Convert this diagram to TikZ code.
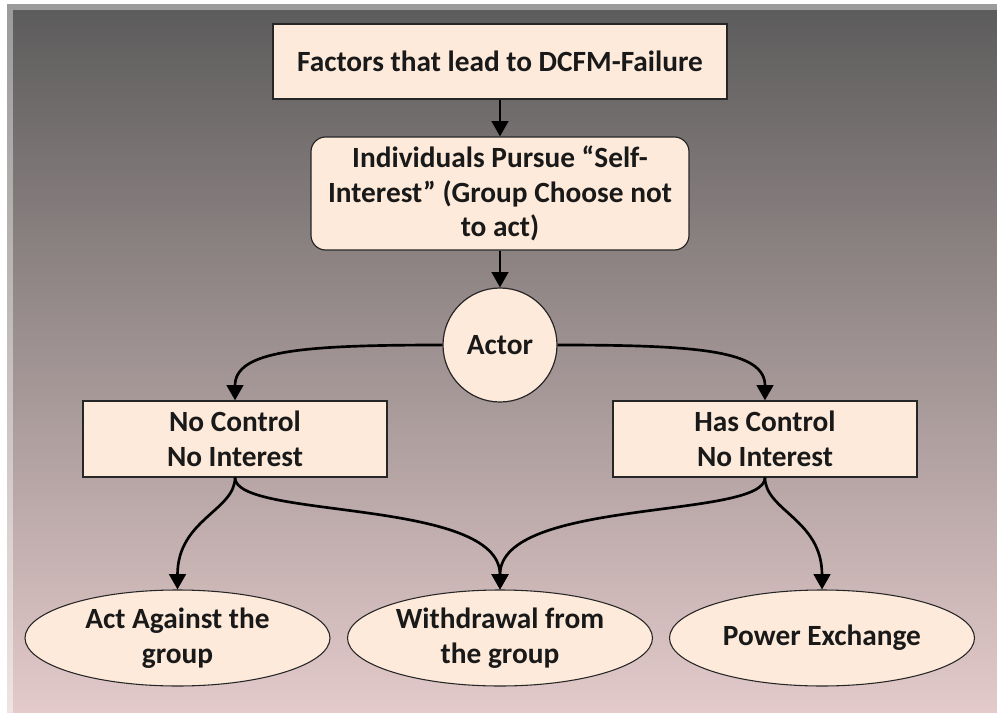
\documentclass[tikz,border=0pt]{standalone}
\usepackage{fontspec}
\setmainfont{Carlito}
\usetikzlibrary{shapes.geometric,arrows.meta}
\definecolor{boxfill}{HTML}{FDEADA}
\definecolor{bgtop}{HTML}{5D5C5C}
\definecolor{bgbot}{HTML}{E4CACA}
\definecolor{frtop}{HTML}{9B9B9B}
\definecolor{frbot}{HTML}{EFE3E3}
\tikzset{
  lbl/.style={font=\fontsize{22}{26}\selectfont\bfseries, text=black!90, align=center, inner sep=0pt},
  sqbox/.style={lbl, draw=black!85, line width=0.9pt, fill=boxfill, rectangle},
  rndbox/.style={sqbox, rounded corners=11pt},
  actorshape/.style={lbl, draw=black!85, line width=0.9pt, fill=boxfill, circle, minimum size=85.5pt},
  outcome/.style={lbl, draw=black!85, line width=0.8pt, fill=boxfill, ellipse, minimum width=228.75pt, minimum height=72pt},
  conn/.style={line width=2pt, black, -{Triangle[width=12.5pt,length=11.5pt]}}
}
\begin{document}
\begin{tikzpicture}[x=0.75pt,y=-0.75pt]
\useasboundingbox (0,0) rectangle (997,714);
\fill[white] (0,0) rectangle (997,714);
\shade[top color=frtop, bottom color=frbot] (7,4) rectangle (997,712);
\shade[top color=bgtop, bottom color=bgbot] (13,10) rectangle (997,712);
\node[sqbox, minimum width=340.5pt, minimum height=56.25pt] (top) at (500,61.5) {Factors that lead to DCFM-Failure};
\node[rndbox, minimum width=283.5pt, minimum height=84.75pt] (self) at (500,193.5) {Individuals Pursue “Self-\\Interest” (Group Choose not\\to act)};
\node[actorshape] (actor) at (500,345) {Actor};
\node[sqbox, minimum width=228pt, minimum height=57pt] (noctl) at (235,439) {No Control\\No Interest};
\node[sqbox, minimum width=228pt, minimum height=57pt] (hasctl) at (765,439) {Has Control\\No Interest};
\node[outcome] (against) at (177.5,638) {Act Against the\\group};
\node[outcome] (withdraw) at (500,638) {Withdrawal from\\the group};
\node[outcome] (power) at (822,638) {Power Exchange};
\draw[conn] (top) -- (self);
\draw[conn] (self) -- (actor);
\draw[conn] (actor.west) .. controls +(-140,0) and +(0,-50) .. (noctl.north);
\draw[conn] (actor.east) .. controls +(140,0) and +(0,-50) .. (hasctl.north);
\draw[conn] (noctl.south) .. controls +(0,33) and +(0,-70) .. (against.north);
\draw[conn] (noctl.south) .. controls +(0,42) and +(0,-92) .. (withdraw.north);
\draw[conn] (hasctl.south) .. controls +(0,42) and +(0,-92) .. (withdraw.north);
\draw[conn] (hasctl.south) .. controls +(0,33) and +(0,-70) .. (power.north);
\end{tikzpicture}
\end{document}
